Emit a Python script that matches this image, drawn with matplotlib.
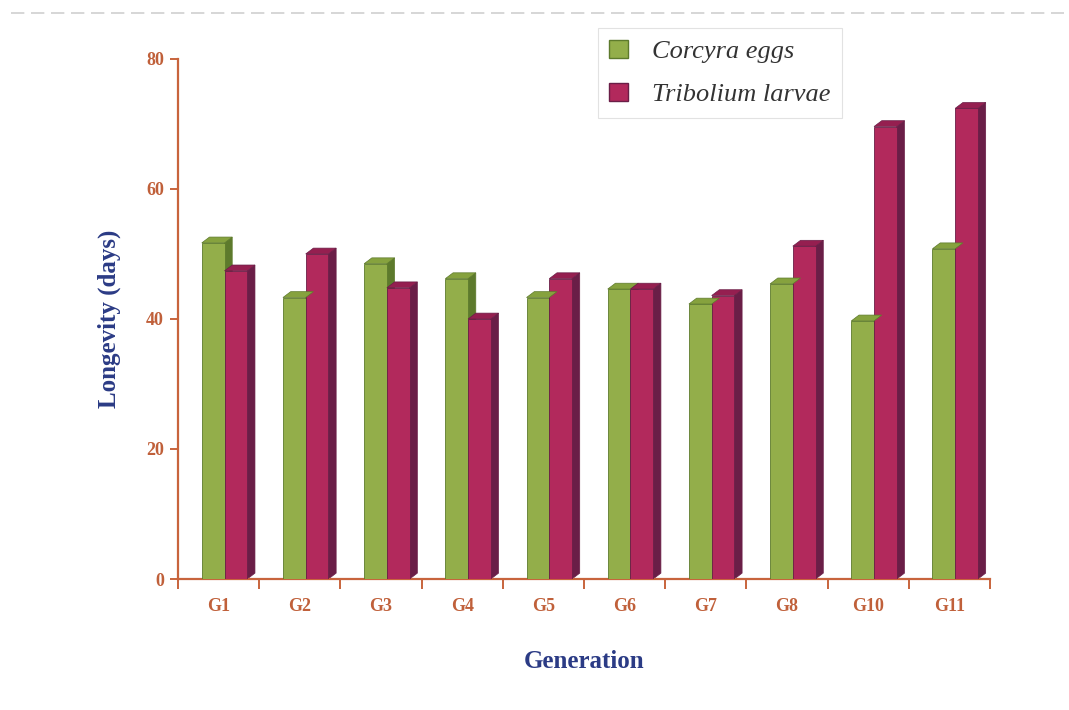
import numpy as np
import matplotlib
matplotlib.use("Agg")
import matplotlib.pyplot as plt
from matplotlib.patches import Polygon, Patch
from matplotlib.lines import Line2D

# longevity (days) per generation for the two diets
generations = ['G1', 'G2', 'G3', 'G4', 'G5', 'G6', 'G7', 'G8', 'G10', 'G11']
corcyra = [51.7, 43.3, 48.5, 46.2, 43.3, 44.6, 42.3, 45.4, 39.7, 50.8]
tribolium = [47.4, 50.0, 44.8, 40.0, 46.2, 44.6, 43.6, 51.2, 69.6, 72.4]

axis_col = '#c8643c'
label_col = '#2b3b85'
serif = ['Liberation Serif', 'DejaVu Serif']

fig = plt.figure(figsize=(10.69, 7.10), dpi=100)
ax = fig.add_axes([0.1665, 0.1845, 0.7595, 0.7325])

x = np.arange(len(generations))
w = 0.28
dx, dy = 0.095, 0.9   # depth of the fake 3d bars


def bars3d(xs, vals, front, side, top):
    ax.bar(xs, vals, width=w, align='edge', color=front, edgecolor=side,
           linewidth=0.6, zorder=3)
    for xi, v in zip(xs, vals):
        ax.add_patch(Polygon([(xi + w, 0), (xi + w + dx, dy), (xi + w + dx, v + dy), (xi + w, v)],
                             closed=True, facecolor=side, edgecolor=side, lw=0.5, zorder=2))
        ax.add_patch(Polygon([(xi, v), (xi + dx, v + dy), (xi + w + dx, v + dy), (xi + w, v)],
                             closed=True, facecolor=top, edgecolor=side, lw=0.5, zorder=4))


bars3d(x - 0.207, corcyra, '#93ae4a', '#5d7a2c', '#86a23e')
bars3d(x - 0.207 + w, tribolium, '#b2295c', '#6a1e47', '#951f50')

ax.set_xlim(-0.5, len(generations) - 0.5)
ax.set_ylim(0, 80)

for s in ['top', 'right']:
    ax.spines[s].set_visible(False)
for s in ['left', 'bottom']:
    ax.spines[s].set_color(axis_col)
    ax.spines[s].set_linewidth(1.6)

ax.set_yticks([0, 20, 40, 60, 80])
ax.tick_params(axis='y', colors=axis_col, length=6, width=1.4, direction='out', pad=4)
ax.set_xticks(x)
ax.set_xticklabels(generations)
ax.set_xticks(np.arange(-0.5, len(generations)), minor=True)
ax.tick_params(axis='x', which='major', length=0, pad=14, colors=axis_col)
ax.tick_params(axis='x', which='minor', length=7, width=1.4, color=axis_col, direction='out')
for lab in ax.get_xticklabels() + ax.get_yticklabels():
    lab.set_family(serif)
    lab.set_fontweight('bold')
    lab.set_fontsize(13)
    lab.set_color('#c0603a')

ax.set_ylabel('Longevity (days)', family=serif, fontweight='bold', fontsize=18,
              color=label_col, labelpad=18)
ax.set_xlabel('Generation', family=serif, fontweight='bold', fontsize=18,
              color=label_col, labelpad=25)

handles = [Patch(facecolor='#93ae4a', edgecolor='#5d7a2c'),
           Patch(facecolor='#b2295c', edgecolor='#6a1e47')]
leg = fig.legend(handles, ['Corcyra eggs', 'Tribolium larvae'], loc='upper left',
                 bbox_to_anchor=(0.559, 0.961), bbox_transform=fig.transFigure,
                 borderaxespad=0,
                 prop={'family': serif, 'style': 'italic', 'size': 19},
                 handlelength=0.7, handleheight=0.7, handletextpad=0.9,
                 labelspacing=0.75, borderpad=0.45, fancybox=False, framealpha=1)
leg.get_frame().set_edgecolor('#e2e2e2')
leg.get_frame().set_linewidth(0.8)
for t in leg.get_texts():
    t.set_color('#333333')

# faint dashed border along the top
fig.add_artist(Line2D([0.01, 0.995], [0.982, 0.982], transform=fig.transFigure,
                      color='#d0d0d0', lw=1.2, ls=(0, (8, 4))))

fig.savefig('out.png', dpi=100)
